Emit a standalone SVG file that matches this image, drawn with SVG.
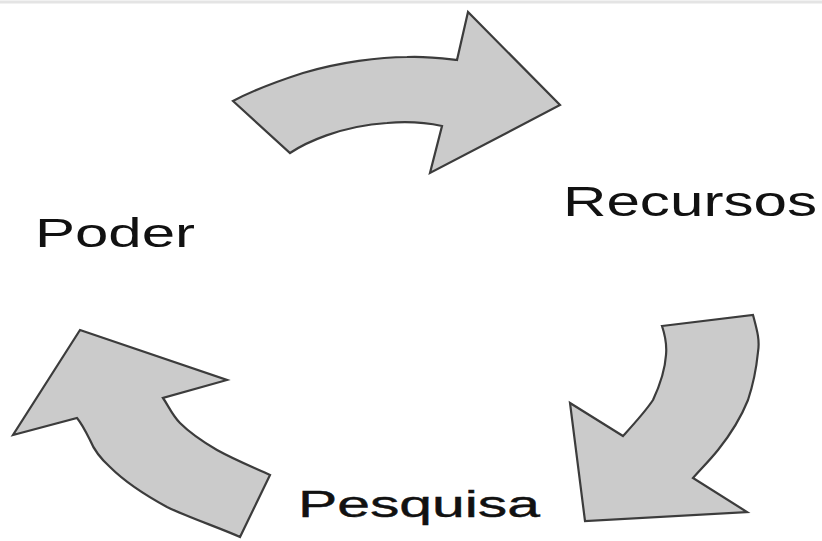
<svg xmlns="http://www.w3.org/2000/svg" width="822" height="541" viewBox="0 0 822 541">
  <style>
    .arrow { fill: #cbcbcb; stroke: #3c3c3c; stroke-width: 2.2; stroke-linejoin: miter; }
    .lbl { font-family: "Liberation Sans", Arial, sans-serif; fill: #111; }
  </style>
  <rect x="0" y="0" width="822" height="541" fill="#ffffff"/>
  <line x1="0" y1="2" x2="822" y2="2" stroke="#e4e4e4" stroke-width="3"/>
  <g id="connectors">
    <path id="arrow-top" class="arrow" d="M233,101 L290,153 C305,143 340,126 387,123 C410,121 428,123 442,126 L430,173 L560,105 L468,12 L457,60 C440,58 425,56 407,57 C380,57 340,62 303,73 C275,82 250,92 233,101 Z"/>
    <path id="arrow-right" class="arrow" d="M662,326 L753,315 C757,330 760,340 758,352 C756,372 753,385 748,400 C740,420 730,435 718,450 C710,460 700,470 693,478 L747,512 L585,521 L570,403 L623,436 C633,425 645,412 653,400 C660,385 665,370 666,355 C667,345 665,335 662,326 Z"/>
    <path id="arrow-left" class="arrow" d="M80,330 L227,380 L163,398 C168,405 172,415 180,423 C192,435 205,443 217,450 C235,460 255,468 270,475 L240,537 C220,528 190,518 167,507 C145,495 125,482 110,467 C100,458 94,450 90,440 C86,432 82,424 77,418 L13,435 Z"/>
  </g>
  <g id="node-recursos">
    <text class="lbl" x="563" y="216" font-size="42" textLength="254" lengthAdjust="spacingAndGlyphs">Recursos</text>
  </g>
  <g id="node-poder">
    <text class="lbl" x="35" y="247" font-size="40" textLength="160" lengthAdjust="spacingAndGlyphs">Poder</text>
  </g>
  <g id="node-pesquisa">
    <text class="lbl" x="298" y="517" font-size="36" textLength="242" lengthAdjust="spacingAndGlyphs" stroke="#111" stroke-width="0.4">Pesquisa</text>
  </g>
</svg>
